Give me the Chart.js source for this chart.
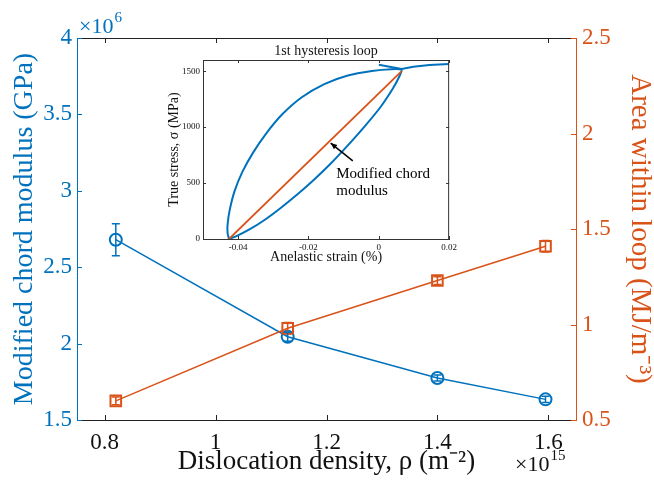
<!DOCTYPE html>
<html lang="en">
<head>
<meta charset="UTF-8" />
<script src="https://cdn.jsdelivr.net/npm/chart.js@4.4.1/dist/chart.umd.min.js"></script>
<style>
  html, body { margin: 0; padding: 0; background: #fff; }
  #wrap { position: relative; width: 654px; height: 496px; }
  #mainChart { position: absolute; left: 0; top: 0; }
  #insetChart { position: absolute; left: 150px; top: 40px; }
</style>
</head>
<body>
<div id="wrap">
  <canvas id="mainChart" width="654" height="496"></canvas>
  <canvas id="insetChart" width="310" height="230"></canvas>
</div>
<script>
// main plot (x in 1e15 m^-2, modulus in 1e6 GPa, area in MJ/m^3)
const density = [0.82, 1.13, 1.40, 1.595];
const chordModulus = [2.68, 2.045, 1.775, 1.635];
const chordErr = [0.105, 0.03, 0.02, 0.02];
const loopArea = [0.60, 0.98, 1.23, 1.41];
const areaErr = [0.02, 0.03, 0.02, 0.03];
const xTicks = [0.8, 1, 1.2, 1.4, 1.6];
const leftTicks = [1.5, 2, 2.5, 3, 3.5, 4];
const rightTicks = [0.5, 1, 1.5, 2, 2.5];

// inset: 1st hysteresis loop (strain %, stress MPa)
const loopStrain = [-0.0426, -0.0430, -0.0430, -0.0424, -0.0410, -0.0388, -0.0358, -0.0321, -0.0276,
  -0.0220, -0.0155, -0.0088, -0.0020, 0.0035, 0.0065,
  0.0058, 0.0040, 0.0005, -0.0042, -0.0090, -0.0138, -0.0186, -0.0233, -0.0280, -0.0325, -0.0368, -0.0405, -0.0426];
const loopStress = [0, 50, 130, 260, 430, 600, 770, 940, 1110,
  1265, 1385, 1462, 1502, 1518, 1512,
  1450, 1345, 1180, 1000, 830, 670, 525, 395, 275, 170, 85, 25, 0];
const tailStrain = [0.0, 0.0065, 0.0098, 0.0144, 0.02];
const tailStress = [1557, 1520, 1540, 1555, 1565];
const chordStrain = [-0.0426, 0.0065];
const chordStress = [0, 1500];
const insetXTicks = [-0.04, -0.02, 0, 0.02];
const insetYTicks = [0, 500, 1000, 1500];

const blue = "#0072BD";
const orange = "#D95319";
const serif = "'Liberation Serif', 'Times New Roman', serif";

const toPoints = (xs, ys) => xs.map((x, i) => ({ x: x, y: ys[i] }));
const setTicks = (vals) => (scale) => { scale.ticks = vals.map((v) => ({ value: v })); };

// inward ticks on all sides of the box, plus top/right border lines
const boxTicks = {
  id: "boxTicks",
  afterDraw(chart, args, opts) {
    const { ctx, chartArea: a, scales } = chart;
    const len = opts.len;
    const line = (x1, y1, x2, y2, color) => {
      ctx.strokeStyle = color;
      ctx.beginPath(); ctx.moveTo(x1, y1); ctx.lineTo(x2, y2); ctx.stroke();
    };
    ctx.save();
    ctx.lineWidth = 1;
    line(a.left, a.top + 0.5, a.right, a.top + 0.5, opts.xColor);
    if (!scales.y1) line(a.right - 0.5, a.top, a.right - 0.5, a.bottom, opts.yColor);
    scales.x.ticks.forEach((t) => {
      const px = Math.round(scales.x.getPixelForValue(t.value)) + 0.5;
      line(px, a.bottom, px, a.bottom - len, opts.xColor);
      line(px, a.top, px, a.top + len, opts.xColor);
    });
    scales.y.ticks.forEach((t) => {
      const py = Math.round(scales.y.getPixelForValue(t.value)) + 0.5;
      line(a.left, py, a.left + len, py, opts.yColor);
      if (!scales.y1) line(a.right, py, a.right - len, py, opts.yColor);
    });
    if (scales.y1) {
      scales.y1.ticks.forEach((t) => {
        const py = Math.round(scales.y1.getPixelForValue(t.value)) + 0.5;
        line(a.right, py, a.right - len, py, opts.y1Color);
      });
    }
    ctx.restore();
  },
};

// vertical error bars with caps
const errorBars = {
  id: "errorBars",
  afterDatasetsDraw(chart) {
    const ctx = chart.ctx;
    ctx.save();
    chart.data.datasets.forEach((ds, i) => {
      if (!ds.errors) return;
      const meta = chart.getDatasetMeta(i);
      const scale = chart.scales[ds.yAxisID];
      ctx.strokeStyle = ds.borderColor;
      ctx.lineWidth = 1.5;
      meta.data.forEach((pt, j) => {
        const v = ds.data[j].y;
        const top = scale.getPixelForValue(v + ds.errors[j]);
        const bot = scale.getPixelForValue(v - ds.errors[j]);
        ctx.beginPath();
        ctx.moveTo(pt.x, top); ctx.lineTo(pt.x, bot);
        ctx.moveTo(pt.x - 4, top); ctx.lineTo(pt.x + 4, top);
        ctx.moveTo(pt.x - 4, bot); ctx.lineTo(pt.x + 4, bot);
        ctx.stroke();
      });
    });
    ctx.restore();
  },
};

// "x10^n" exponent labels
const exponents = {
  id: "exponents",
  afterDraw(chart) {
    const { ctx, chartArea: a } = chart;
    const put = (x, y, exp, color) => {
      ctx.fillStyle = color;
      ctx.font = "22px " + serif;
      ctx.textBaseline = "alphabetic";
      ctx.textAlign = "left";
      ctx.fillText("×10", x, y);
      const w = ctx.measureText("×10").width;
      ctx.font = "15px " + serif;
      ctx.fillText(exp, x + w + 1, y - 11);
    };
    ctx.save();
    put(a.left + 2, a.top - 5, "6", blue);
    put(a.right - 61, a.bottom + 51, "15", "#111");
    ctx.restore();
  },
};

new Chart(document.getElementById("mainChart"), {
  type: "line",
  data: {
    datasets: [
      {
        label: "Area within loop",
        data: toPoints(density, loopArea),
        errors: areaErr,
        yAxisID: "y1",
        borderColor: orange,
        borderWidth: 1.5,
        pointStyle: "rect",
        pointRadius: 7.5,
        pointBorderWidth: 2,
        pointBackgroundColor: "rgba(0,0,0,0)",
        pointBorderColor: orange,
      },
      {
        label: "Modified chord modulus",
        data: toPoints(density, chordModulus),
        errors: chordErr,
        yAxisID: "y",
        borderColor: blue,
        borderWidth: 1.5,
        pointStyle: "circle",
        pointRadius: 6,
        pointBorderWidth: 2,
        pointBackgroundColor: "rgba(0,0,0,0)",
        pointBorderColor: blue,
      },
    ],
  },
  options: {
    responsive: false,
    animation: false,
    layout: { padding: { top: 38 } },
    plugins: {
      legend: { display: false },
      tooltip: { enabled: false },
      boxTicks: { len: 5, xColor: "#222", yColor: blue, y1Color: orange },
    },
    scales: {
      x: {
        type: "linear",
        min: 0.75,
        max: 1.65,
        afterBuildTicks: setTicks(xTicks),
        afterFit: (s) => { s.height = 76; },
        grid: { display: false, drawTicks: false },
        border: { color: "#222", width: 1 },
        ticks: { color: "#111", font: { family: serif, size: 23 }, padding: 9, callback: (v) => v.toString() },
        title: {
          display: true,
          text: "Dislocation density, ρ (m⁻²)",
          color: "#111",
          font: { family: serif, size: 27 },
          padding: { top: 0, bottom: 18 },
        },
      },
      y: {
        type: "linear",
        position: "left",
        min: 1.5,
        max: 4,
        afterBuildTicks: setTicks(leftTicks),
        afterFit: (s) => { s.width = 77; },
        grid: { display: false, drawTicks: false },
        border: { color: blue, width: 1 },
        ticks: { color: blue, font: { family: serif, size: 23 }, padding: 5, callback: (v) => v.toString() },
        title: {
          display: true,
          text: "Modified chord modulus (GPa)",
          color: blue,
          font: { family: serif, size: 28 },
          padding: { top: 8, bottom: 0 },
        },
      },
      y1: {
        type: "linear",
        position: "right",
        min: 0.5,
        max: 2.5,
        afterBuildTicks: setTicks(rightTicks),
        afterFit: (s) => { s.width = 78; },
        grid: { display: false, drawTicks: false },
        border: { color: orange, width: 1 },
        ticks: { color: orange, font: { family: serif, size: 23 }, padding: 6, callback: (v) => v.toString() },
        title: {
          display: true,
          text: "Area within loop (MJ/m⁻³)",
          color: orange,
          font: { family: serif, size: 29, lineHeight: 1 },
          padding: { top: 0, bottom: 0 },
        },
      },
    },
  },
  plugins: [boxTicks, errorBars, exponents],
});

// inset title, arrow and text annotation (placed in data coordinates)
const insetNotes = {
  id: "insetNotes",
  afterDraw(chart) {
    const { ctx, chartArea: a, scales: { x, y } } = chart;
    ctx.save();
    ctx.fillStyle = "#111";
    ctx.font = "14px " + serif;
    ctx.textAlign = "center";
    ctx.textBaseline = "middle";
    ctx.fillText("1st hysteresis loop", (a.left + a.right) / 2, a.top - 9);

    const tipX = x.getPixelForValue(-0.0137), tipY = y.getPixelForValue(857);
    const tailX = x.getPixelForValue(-0.0074), tailY = y.getPixelForValue(699);
    ctx.strokeStyle = "#000";
    ctx.fillStyle = "#000";
    ctx.lineWidth = 1.5;
    ctx.beginPath(); ctx.moveTo(tailX, tailY); ctx.lineTo(tipX, tipY); ctx.stroke();
    const ang = Math.atan2(tipY - tailY, tipX - tailX);
    ctx.beginPath();
    ctx.moveTo(tipX, tipY);
    ctx.lineTo(tipX - 7 * Math.cos(ang - 0.4), tipY - 7 * Math.sin(ang - 0.4));
    ctx.lineTo(tipX - 7 * Math.cos(ang + 0.4), tipY - 7 * Math.sin(ang + 0.4));
    ctx.closePath(); ctx.fill();
    ctx.font = "15px " + serif;
    ctx.textAlign = "left";
    const tx = x.getPixelForValue(-0.0121);
    ctx.fillText("Modified chord", tx, y.getPixelForValue(583));
    ctx.fillText("modulus", tx, y.getPixelForValue(426));
    ctx.restore();
  },
};

new Chart(document.getElementById("insetChart"), {
  type: "scatter",
  data: {
    datasets: [
      { data: toPoints(chordStrain, chordStress), showLine: true, borderColor: orange, borderWidth: 1.8, pointRadius: 0 },
      { data: toPoints(loopStrain, loopStress), showLine: true, borderColor: blue, borderWidth: 2, pointRadius: 0, tension: 0.2 },
      { data: toPoints(tailStrain, tailStress), showLine: true, borderColor: blue, borderWidth: 2, pointRadius: 0, tension: 0 },
    ],
  },
  options: {
    responsive: false,
    animation: false,
    layout: { padding: { top: 20, right: 7 } },
    plugins: {
      legend: { display: false },
      tooltip: { enabled: false },
      boxTicks: { len: 3, xColor: "#333", yColor: "#333" },
    },
    scales: {
      x: {
        type: "linear",
        min: -0.05,
        max: 0.02,
        afterBuildTicks: setTicks(insetXTicks),
        afterFit: (s) => { s.height = 31; },
        grid: { display: false, drawTicks: false },
        border: { color: "#333", width: 1 },
        ticks: { color: "#111", font: { family: serif, size: 9 }, padding: 3, callback: (v) => (v === 0 ? "0" : v.toFixed(2)) },
        title: {
          display: true,
          text: "Anelastic strain (%)",
          color: "#111",
          font: { family: serif, size: 14 },
          padding: { top: 0, bottom: 4 },
        },
      },
      y: {
        type: "linear",
        min: 0,
        max: 1600,
        afterBuildTicks: setTicks(insetYTicks),
        afterFit: (s) => { s.width = 53; },
        grid: { display: false, drawTicks: false },
        border: { color: "#333", width: 1 },
        ticks: { color: "#111", font: { family: serif, size: 9 }, padding: 3, callback: (v) => String(v) },
        title: {
          display: true,
          text: "True stress, σ (MPa)",
          color: "#111",
          font: { family: serif, size: 14 },
          padding: { top: 16, bottom: 0 },
        },
      },
    },
  },
  plugins: [boxTicks, insetNotes],
});
</script>
</body>
</html>
